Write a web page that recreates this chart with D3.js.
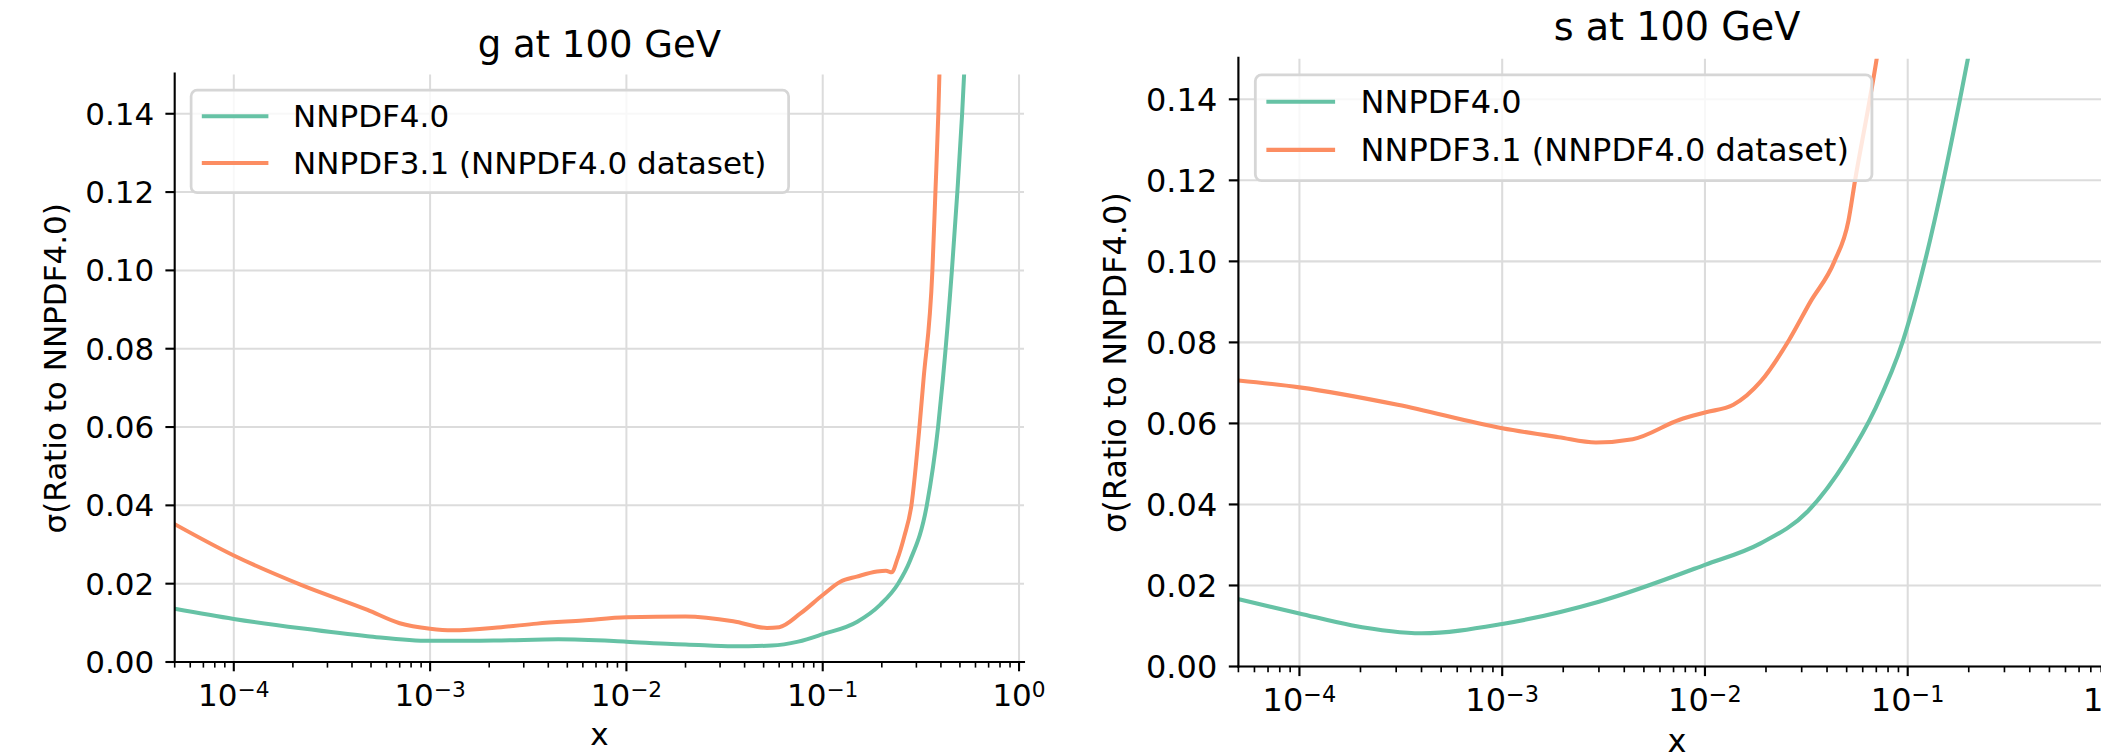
<!DOCTYPE html>
<html>
<head>
<meta charset="utf-8">
<script src="https://cdn.jsdelivr.net/npm/d3@7"></script>
<style>
  html, body { margin: 0; padding: 0; background: #ffffff; }
  svg { display: block; font-family: "DejaVu Sans", sans-serif; }
</style>
</head>
<body>
<script>
// Uncertainty of PDFs relative to NNPDF4.0, at Q = 100 GeV

const seriesNames = ["NNPDF4.0", "NNPDF3.1 (NNPDF4.0 dataset)"];
const seriesColors = ["#66c2a5", "#fc8d62"];
const yTicks = [0.00, 0.02, 0.04, 0.06, 0.08, 0.10, 0.12, 0.14];
const xDecades = [-4, -3, -2, -1, 0];
const xDomain = [5e-5, 1.06];
const yDomain = [0, 0.15];

// gluon, NNPDF4.0
const gX40 = [5e-5, 1e-4, 2.2e-4, 4.8e-4, 1e-3, 1.6e-3, 2.3e-3, 4.5e-3, 1e-2, 1.7e-2, 2e-2, 3.5e-2, 5.5e-2, 7.5e-2, 0.1, 0.15, 0.196, 0.242, 0.279, 0.339, 0.387, 0.409, 0.455, 0.485, 0.513, 0.525, 0.54];
const gY40 = [0.0136, 0.0110, 0.0086, 0.0066, 0.0054, 0.0054, 0.0055, 0.0058, 0.0052, 0.0046, 0.0045, 0.0040, 0.0042, 0.0052, 0.0071, 0.0103, 0.0146, 0.0200, 0.0260, 0.0400, 0.0600, 0.0720, 0.1000, 0.1200, 0.1400, 0.1500, 0.1600];
// gluon, NNPDF3.1 fitted to the NNPDF4.0 dataset
const gX31 = [5e-5, 1e-4, 2.2e-4, 4.8e-4, 7e-4, 1e-3, 1.3e-3, 2.3e-3, 3.5e-3, 6e-3, 1e-2, 2e-2, 3.5e-2, 5.2e-2, 6e-2, 7.7e-2, 0.1, 0.123, 0.149, 0.189, 0.21, 0.225, 0.239, 0.26, 0.283, 0.311, 0.326, 0.362, 0.375, 0.388, 0.393, 0.40];
const gY31 = [0.0352, 0.0272, 0.0197, 0.0133, 0.0099, 0.0085, 0.0081, 0.0089, 0.0098, 0.0106, 0.0114, 0.0116, 0.0104, 0.0087, 0.0089, 0.0124, 0.0171, 0.0205, 0.0218, 0.0231, 0.0233, 0.0229, 0.0260, 0.0320, 0.0400, 0.0600, 0.0720, 0.1000, 0.1200, 0.1400, 0.1500, 0.1650];
// strange, NNPDF4.0
const sX40 = [5e-5, 1e-4, 1.8e-4, 4e-4, 1e-3, 3e-3, 1e-2, 1.88e-2, 3.2e-2, 5.0e-2, 6.9e-2, 9.51e-2, 0.1216, 0.150, 0.181, 0.198, 0.21];
const sY40 = [0.0166, 0.0131, 0.0102, 0.0082, 0.0105, 0.0160, 0.0251, 0.0304, 0.0382, 0.0510, 0.0635, 0.0806, 0.1000, 0.1200, 0.1400, 0.1500, 0.1570];
// strange, NNPDF3.1 fitted to the NNPDF4.0 dataset
const sX31 = [5e-5, 1e-4, 3.05e-4, 1e-3, 1.9e-3, 2.9e-3, 4.4e-3, 7.5e-3, 1e-2, 1.38e-2, 1.88e-2, 2.6e-2, 3.31e-2, 4.35e-2, 5.1e-2, 5.5e-2, 6.5e-2, 7.03e-2, 7.5e-2];
const sY31 = [0.0706, 0.0689, 0.0646, 0.0588, 0.0566, 0.0553, 0.0561, 0.0609, 0.0627, 0.0646, 0.0703, 0.0806, 0.0900, 0.1000, 0.1100, 0.1200, 0.1400, 0.1500, 0.1600];

const panels = [
  { title: "g at 100 GeV", series: [[gX40, gY40], [gX31, gY31]],
    left: 174.7, right: 1024, top: 74.6, bottom: 662, s: 1.0 },
  { title: "s at 100 GeV", series: [[sX40, sY40], [sX31, sY31]],
    left: 1238.4, right: 2115.6, top: 58.8, bottom: 666.5, s: 1.032 }
];

const W = 2101, H = 756;
const svg = d3.select("body").append("svg")
  .attr("width", W).attr("height", H)
  .attr("viewBox", `0 0 ${W} ${H}`);
svg.append("rect").attr("width", W).attr("height", H).attr("fill", "#ffffff");

panels.forEach((p, pi) => {
  const s = p.s;
  const fs = 31 * s;
  const x = d3.scaleLog().domain(xDomain).range([p.left, p.right]);
  const y = d3.scaleLinear().domain(yDomain).range([p.bottom, p.top]);
  const g = svg.append("g");

  // grid
  const grid = g.append("g").attr("stroke", "#dcdcdc").attr("stroke-width", 2 * s);
  xDecades.forEach(e => {
    const v = Math.pow(10, e);
    grid.append("line").attr("x1", x(v)).attr("x2", x(v)).attr("y1", p.top).attr("y2", p.bottom);
  });
  yTicks.forEach(v => {
    grid.append("line").attr("x1", p.left).attr("x2", p.right).attr("y1", y(v)).attr("y2", y(v));
  });

  // curves
  const clipId = "clip" + pi;
  svg.append("defs").append("clipPath").attr("id", clipId)
    .append("rect").attr("x", p.left).attr("y", p.top)
    .attr("width", p.right - p.left).attr("height", p.bottom - p.top);
  const line = d3.line().x(d => x(d[0])).y(d => y(d[1])).curve(d3.curveMonotoneX);
  const curves = g.append("g").attr("clip-path", `url(#${clipId})`);
  p.series.forEach(([xs, ys], i) => {
    const pts = xs.map((xv, k) => [xv, ys[k]]);
    curves.append("path").datum(pts)
      .attr("d", line)
      .attr("fill", "none")
      .attr("stroke", seriesColors[i])
      .attr("stroke-width", 4 * s)
      .attr("stroke-linejoin", "round")
      .attr("stroke-linecap", "round");
  });

  // spines
  g.append("line").attr("x1", p.left).attr("x2", p.left).attr("y1", p.top - 1).attr("y2", p.bottom)
    .attr("stroke", "#000").attr("stroke-width", 2.1 * s).attr("stroke-linecap", "square");
  g.append("line").attr("x1", p.left).attr("x2", p.right).attr("y1", p.bottom).attr("y2", p.bottom)
    .attr("stroke", "#000").attr("stroke-width", 2.1 * s).attr("stroke-linecap", "square");

  // y ticks and labels
  yTicks.forEach(v => {
    g.append("line").attr("x1", p.left - 9.3 * s).attr("x2", p.left)
      .attr("y1", y(v)).attr("y2", y(v))
      .attr("stroke", "#000").attr("stroke-width", 2.1 * s);
    g.append("text").attr("x", p.left - 20.5 * s).attr("y", y(v) + 11 * s)
      .attr("text-anchor", "end").attr("font-size", fs).attr("fill", "#000")
      .text(v.toFixed(2));
  });

  // x minor ticks
  const minors = [];
  for (let e = -5; e <= 0; e++) {
    for (let m = 1; m <= 9; m++) {
      const v = m * Math.pow(10, e);
      if (v >= xDomain[0] * 0.9999 && v <= xDomain[1] && m !== 1) minors.push(v);
    }
  }
  minors.forEach(v => {
    g.append("line").attr("x1", x(v)).attr("x2", x(v))
      .attr("y1", p.bottom).attr("y2", p.bottom + 5.6 * s)
      .attr("stroke", "#000").attr("stroke-width", 1.6 * s);
  });
  // x major ticks and labels
  xDecades.forEach(e => {
    const v = Math.pow(10, e);
    g.append("line").attr("x1", x(v)).attr("x2", x(v))
      .attr("y1", p.bottom).attr("y2", p.bottom + 9.3 * s)
      .attr("stroke", "#000").attr("stroke-width", 2.1 * s);
    const t = g.append("text").attr("x", x(v)).attr("y", p.bottom + 43.5 * s)
      .attr("text-anchor", "middle").attr("font-size", fs).attr("fill", "#000");
    t.append("tspan").text("10");
    t.append("tspan").attr("font-size", fs * 0.7).attr("dy", -9 * s)
      .text(e < 0 ? "\u2212" + Math.abs(e) : String(e));
  });

  // axis labels
  g.append("text").attr("x", (p.left + p.right) / 2).attr("y", p.bottom + 83 * s)
    .attr("text-anchor", "middle").attr("font-size", fs).attr("fill", "#000").text("x");
  const cy = (p.top + p.bottom) / 2;
  const lx = p.left - 109 * s;
  g.append("text").attr("transform", `translate(${lx},${cy}) rotate(-90)`)
    .attr("text-anchor", "middle").attr("font-size", fs).attr("fill", "#000")
    .text("\u03c3(Ratio to NNPDF4.0)");

  // title
  g.append("text").attr("x", (p.left + p.right) / 2).attr("y", p.top - 18 * s)
    .attr("text-anchor", "middle").attr("font-size", 37 * s).attr("fill", "#000")
    .text(p.title);

  // legend
  const bx = p.left + 16.4 * s, by = p.top + 15.6 * s;
  const leg = g.append("g");
  leg.append("rect").attr("x", bx).attr("y", by)
    .attr("width", 597.5 * s).attr("height", 102.5 * s)
    .attr("rx", 6 * s).attr("ry", 6 * s)
    .attr("fill", "#ffffff").attr("fill-opacity", 0.8)
    .attr("stroke", "#d6d6d6").attr("stroke-width", 2.7 * s);
  seriesNames.forEach((name, i) => {
    const ly = by + (26 + i * 46.7) * s;
    leg.append("line").attr("x1", bx + 10.7 * s).attr("x2", bx + 77.3 * s)
      .attr("y1", ly).attr("y2", ly)
      .attr("stroke", seriesColors[i]).attr("stroke-width", 4 * s);
    leg.append("text").attr("x", bx + 102 * s).attr("y", ly + 11 * s)
      .attr("font-size", fs).attr("fill", "#000").text(name);
  });
});
</script>
</body>
</html>
